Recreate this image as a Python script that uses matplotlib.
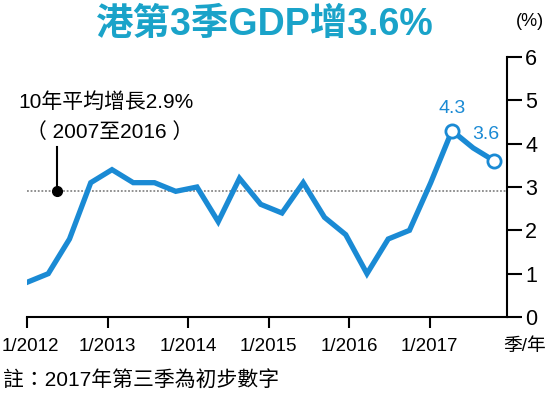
import matplotlib
matplotlib.use("Agg")
import matplotlib.pyplot as plt
import matplotlib.transforms as mtransforms
import numpy as np

plt.rcParams['font.family'] = ['Liberation Sans', 'Noto Sans CJK TC', 'DejaVu Sans']

# Quarterly GDP growth (%), Q1 2012 .. Q3 2017
growth = [0.8, 1.0, 1.8, 3.1,
          3.4, 3.1, 3.1, 2.9,
          3.0, 2.2, 3.2, 2.6,
          2.4, 3.1, 2.3, 1.9,
          1.0, 1.8, 2.0, 3.1,
          4.3, 3.9, 3.6]
labelled_idx = [20, 22]
avg_growth = 2.9
x_tick_labels = ['1/2012', '1/2013', '1/2014', '1/2015', '1/2016', '1/2017']
y_ticks = [0, 1, 2, 3, 4, 5, 6]

title = '港第3季GDP增3.6%'
note = '註：2017年第三季為初步數字'
avg_line1 = '10年平均增長2.9%'
avg_line2 = '（ 2007至2016 ）'

line_color = '#1a8ad4'
title_color = '#1aa3c9'

fig = plt.figure(figsize=(5.5, 3.94), dpi=100)
ax = fig.add_axes([27/550, 1-317/394, 480/550, 260/394])

xs = np.arange(len(growth))
ax.plot(xs, growth, color=line_color, lw=3.8, solid_joinstyle='miter', zorder=3)
ax.plot([xs[i] for i in labelled_idx], [growth[i] for i in labelled_idx], 'o',
        ms=9.5, mfc='white', mec=line_color, mew=2, zorder=4)
ax.annotate(f'{growth[20]}', (xs[20], growth[20]), xytext=(0, 10), textcoords='offset points',
            ha='center', va='bottom', color=line_color, fontsize=14)
ax.annotate(f'{growth[22]}', (xs[22], growth[22]), xytext=(-6, 13), textcoords='offset points',
            ha='center', va='bottom', color=line_color, fontsize=14)

ax.axhline(avg_growth, color='#888888', ls=(0, (1, 1)), lw=1.3, zorder=1)
ax.plot([1.41], [avg_growth], 'o', color='black', ms=7, zorder=5)
ax.plot([1.41, 1.41], [avg_growth, 3.93], color='black', lw=1.5, zorder=5)

ax.set_xlim(0, 22.59)
ax.set_ylim(0, 6)
ax.set_xticks(np.arange(len(x_tick_labels)) * 3.79)
ax.set_xticklabels(x_tick_labels, fontsize=13.5)
ax.set_yticks(y_ticks)
ax.set_yticklabels([str(v) for v in y_ticks], fontsize=15.5)
ax.yaxis.tick_right()
for s in ['left', 'top']:
    ax.spines[s].set_visible(False)
for s in ['bottom', 'right']:
    ax.spines[s].set_linewidth(1.5)
ax.tick_params(axis='y', direction='out', length=11, width=1.5, pad=2)
ax.tick_params(axis='x', direction='out', length=8, width=1.5, pad=7)

first = ax.get_xticklabels()[0]
first.set_transform(first.get_transform() + mtransforms.ScaledTranslation(3/100, 0, fig.dpi_scale_trans))

fig.text(18/550, 1-102/394, avg_line1, ha='left', va='center', fontsize=15)
fig.text(110/550, 1-132/394, avg_line2, ha='center', va='center', fontsize=15)
fig.text(265/550, 1-25/394, title, ha='center', va='center', fontsize=27,
         fontweight='bold', color=title_color)
fig.text(530/550, 1-22/394, '(%)', ha='center', va='center', fontsize=13)
fig.text(525/550, 1-346/394, '季/年', ha='center', va='center', fontsize=13.5)
fig.text(3/550, 1-380/394, note, ha='left', va='center', fontsize=15)

fig.savefig('out.png', dpi=100)
